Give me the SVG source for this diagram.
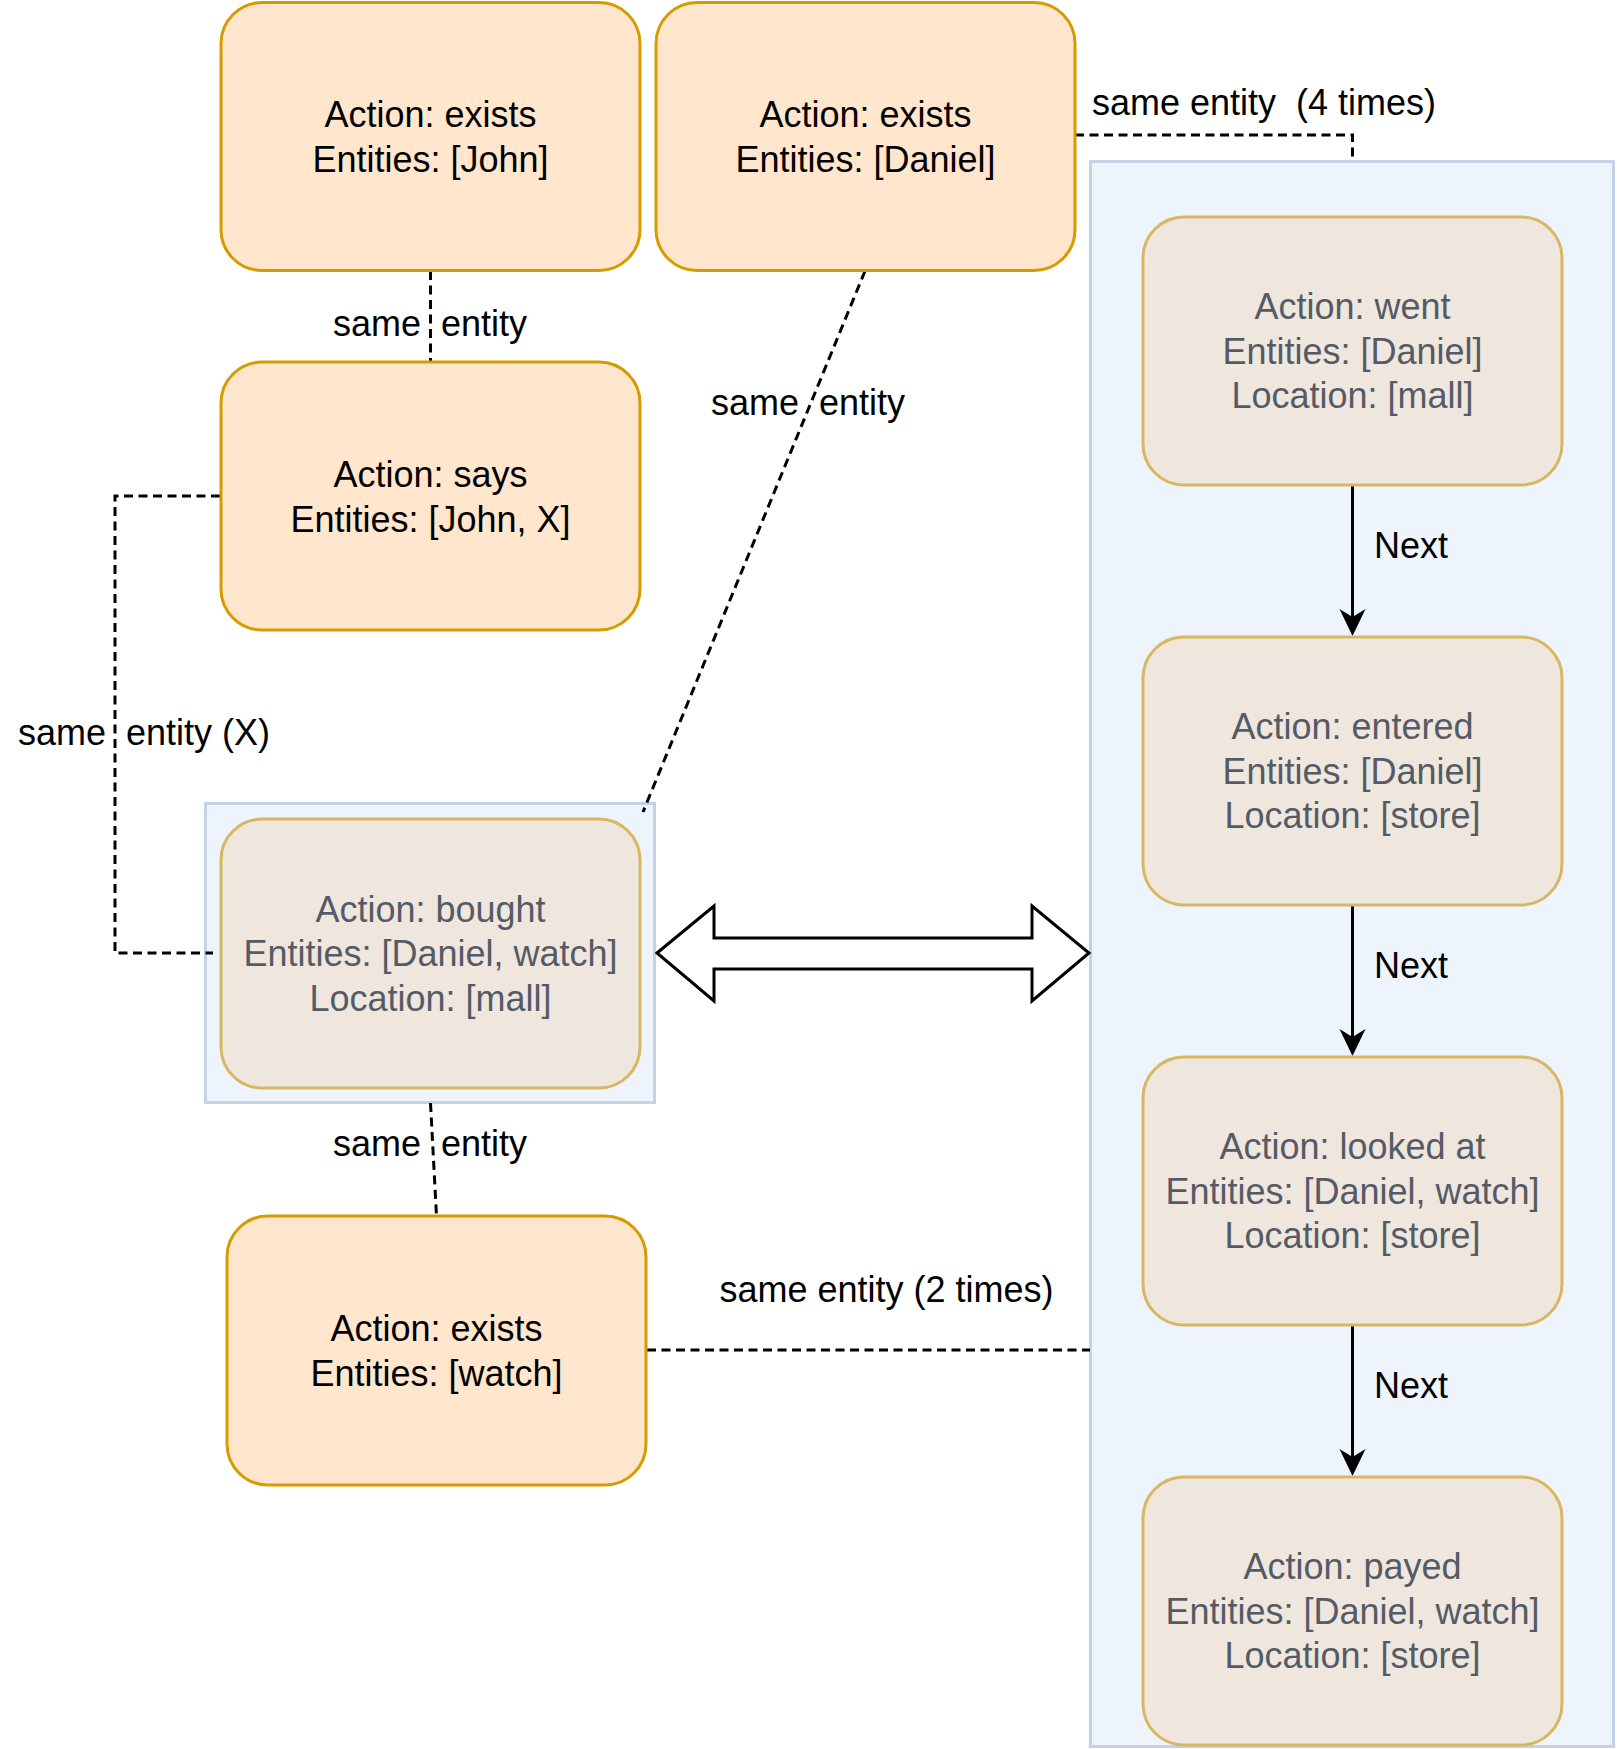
<svg xmlns="http://www.w3.org/2000/svg" width="1617" height="1749" viewBox="0 0 1617 1749">
<style>
text{font-family:"Liberation Sans",Arial,Helvetica,sans-serif;font-size:36px;fill:#000}
.o{fill:#ffe6cc;stroke:#d79b00;stroke-width:3}
.b{fill:#efe6dd;stroke:#d8b762;stroke-width:3}
.bt{fill:#545b66}
.c{fill:#eef4fc;stroke:#c3d2e7;stroke-width:3}
.d{fill:none;stroke:#000;stroke-width:3;stroke-dasharray:9 5.5}
.s{fill:none;stroke:#000;stroke-width:3}
.m{text-anchor:middle}
</style>
<defs>
<marker id="arr" markerUnits="userSpaceOnUse" markerWidth="30" markerHeight="30" refX="19" refY="13" orient="auto">
<path d="M0,0 L27,13 L0,26 L8,13 Z" fill="#000"/>
</marker>
</defs>
<rect id="rightContainer" class="c" x="1090.5" y="161.5" width="523" height="1585"/>
<rect id="boughtContainer" class="c" x="205.5" y="803.5" width="449" height="299"/>
<g id="connectors">
<path class="d" d="M430.5,271 L430.5,361"/>
<path class="d" d="M865,271 L643,812"/>
<path class="d" d="M220,496 L115,496 L115,953 L213,953"/>
<path class="d" d="M430.5,1103 L436.5,1216"/>
<path class="d" d="M647,1350 L1090,1350"/>
<path class="d" d="M1075,135 L1352.5,135 L1352.5,161"/>
<path class="s" d="M1352.5,486 L1352.5,628" marker-end="url(#arr)"/>
<path class="s" d="M1352.5,906 L1352.5,1048" marker-end="url(#arr)"/>
<path class="s" d="M1352.5,1326 L1352.5,1468" marker-end="url(#arr)"/>
<polygon points="657,953 714,906 714,938 1032,938 1032,906 1089,953 1032,1001 1032,969 714,969 714,1001" fill="#fff" stroke="#000" stroke-width="3" stroke-linejoin="miter"/>
<text class="m" x="430" y="336" xml:space="preserve">same  entity</text>
<text class="m" x="808" y="415" xml:space="preserve">same  entity</text>
<text x="18" y="745" xml:space="preserve">same  entity (X)</text>
<text class="m" x="430" y="1156" xml:space="preserve">same  entity</text>
<text class="m" x="886.5" y="1302">same entity (2 times)</text>
<text x="1092" y="115" xml:space="preserve">same entity  (4 times)</text>
<text x="1374" y="558">Next</text>
<text x="1374" y="978">Next</text>
<text x="1374" y="1398">Next</text>
</g>
<g id="existsJohn">
<rect class="o" x="221" y="2.5" width="419" height="268" rx="41" ry="41"/>
<text class="m" x="430.5" y="127">Action: exists</text>
<text class="m" x="430.5" y="172">Entities: [John]</text>
</g>
<g id="existsDaniel">
<rect class="o" x="656" y="2.5" width="419" height="268" rx="41" ry="41"/>
<text class="m" x="865.5" y="127">Action: exists</text>
<text class="m" x="865.5" y="172">Entities: [Daniel]</text>
</g>
<g id="says">
<rect class="o" x="221" y="362" width="419" height="268" rx="41" ry="41"/>
<text class="m" x="430.5" y="486.5">Action: says</text>
<text class="m" x="430.5" y="531.5">Entities: [John, X]</text>
</g>
<g id="bought">
<rect class="b" x="221" y="819" width="419" height="269" rx="41" ry="41"/>
<text class="m bt" x="430.5" y="921.5">Action: bought</text>
<text class="m bt" x="430.5" y="966">Entities: [Daniel, watch]</text>
<text class="m bt" x="430.5" y="1010.5">Location: [mall]</text>
</g>
<g id="existsWatch">
<rect class="o" x="227" y="1216" width="419" height="269" rx="41" ry="41"/>
<text class="m" x="436.5" y="1341">Action: exists</text>
<text class="m" x="436.5" y="1386">Entities: [watch]</text>
</g>
<g id="went">
<rect class="b" x="1143" y="217" width="419" height="268" rx="41" ry="41"/>
<text class="m bt" x="1352.5" y="319">Action: went</text>
<text class="m bt" x="1352.5" y="363.5">Entities: [Daniel]</text>
<text class="m bt" x="1352.5" y="408">Location: [mall]</text>
</g>
<g id="entered">
<rect class="b" x="1143" y="637" width="419" height="268" rx="41" ry="41"/>
<text class="m bt" x="1352.5" y="739">Action: entered</text>
<text class="m bt" x="1352.5" y="783.5">Entities: [Daniel]</text>
<text class="m bt" x="1352.5" y="828">Location: [store]</text>
</g>
<g id="lookedAt">
<rect class="b" x="1143" y="1057" width="419" height="268" rx="41" ry="41"/>
<text class="m bt" x="1352.5" y="1159">Action: looked at</text>
<text class="m bt" x="1352.5" y="1203.5">Entities: [Daniel, watch]</text>
<text class="m bt" x="1352.5" y="1248">Location: [store]</text>
</g>
<g id="payed">
<rect class="b" x="1143" y="1477" width="419" height="268" rx="41" ry="41"/>
<text class="m bt" x="1352.5" y="1579">Action: payed</text>
<text class="m bt" x="1352.5" y="1623.5">Entities: [Daniel, watch]</text>
<text class="m bt" x="1352.5" y="1668">Location: [store]</text>
</g>
</svg>
